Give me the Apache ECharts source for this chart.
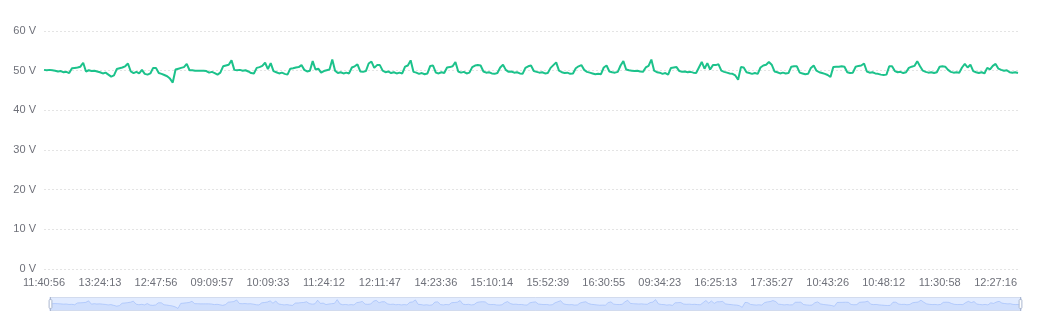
<!DOCTYPE html>
<html>
<head>
<meta charset="utf-8">
<script src="https://cdn.jsdelivr.net/npm/echarts@6/dist/echarts.min.js"></script>
<style>
html,body{margin:0;padding:0;background:#fff;}
#chart{width:1050px;height:314px;}
</style>
</head>
<body>
<div id="chart"></div>
<script>
// Visible tick labels on the x axis (every 20th category)
const tickLabels = ['11:40:56','13:24:13','12:47:56','09:09:57','10:09:33','11:24:12','12:11:47','14:23:36','15:10:14','15:52:39','16:30:55','09:34:23','16:25:13','17:35:27','10:43:26','10:48:12','11:30:58','12:27:16'];
const labelStep = 20;

// Voltage readings (V)
const voltage = [
50.2,50.1,50.2,50.1,50.0,49.8,49.9,49.6,49.7,49.4,50.6,50.7,50.8,51.0,52.0,49.8,50.1,49.9,50.0,49.8,
49.6,49.3,49.5,49.0,48.5,48.8,50.4,50.6,50.8,51.1,51.8,49.8,49.4,49.7,49.3,50.2,49.2,49.0,49.3,50.7,
50.7,49.4,49.2,48.9,48.6,48.0,47.0,50.3,50.5,50.7,50.9,51.7,50.1,50.1,50.0,50.0,50.0,50.0,49.9,49.5,
49.7,49.4,49.0,49.5,51.1,51.3,51.5,52.6,50.2,50.1,50.2,50.0,50.1,49.8,49.4,49.3,50.7,50.9,51.2,52.0,
50.4,51.9,49.9,49.6,49.3,49.5,49.2,49.0,50.5,50.6,50.8,50.9,51.4,50.2,49.8,50.0,52.4,50.3,50.5,49.5,
49.9,50.1,50.3,52.8,50.0,49.4,49.6,49.3,49.5,49.3,50.8,51.1,51.6,49.8,49.7,49.9,51.8,52.3,50.7,51.4,
51.4,50.0,49.6,49.8,49.4,49.6,49.3,49.5,49.3,51.0,51.3,52.6,49.7,49.5,49.2,49.4,49.1,49.3,51.2,51.3,
49.5,49.3,49.6,49.4,50.8,50.9,51.1,52.2,49.8,49.5,49.7,49.3,49.5,50.9,51.3,51.4,51.3,49.8,49.5,49.6,
49.3,49.2,49.4,50.8,51.5,50.2,49.7,49.8,49.5,49.6,49.3,49.2,50.7,51.1,51.3,49.9,49.7,49.5,49.6,49.3,
49.4,50.7,51.4,52.1,50.0,49.6,49.4,49.5,49.2,49.3,50.6,51.1,51.4,50.2,49.7,49.5,49.3,49.1,49.2,49.1,
50.8,51.3,49.8,49.6,49.5,49.7,51.3,52.4,50.3,50.1,50.0,49.9,50.0,49.8,49.7,50.8,51.2,52.8,50.0,49.6,
49.5,49.2,49.4,49.0,50.7,50.8,50.9,49.9,49.7,49.8,49.6,49.7,49.5,49.4,50.8,52.2,50.5,51.9,50.3,51.4,
51.4,51.6,50.0,49.7,49.5,49.3,49.2,48.8,47.7,50.9,50.8,49.6,49.4,49.2,49.4,49.2,50.8,51.3,51.5,52.2,
51.5,49.8,49.6,49.3,49.5,49.3,49.4,51.0,51.1,51.1,49.5,49.3,49.1,49.2,50.7,51.3,50.0,49.6,49.4,49.2,
48.9,48.4,50.9,51.0,51.0,51.1,51.0,49.6,49.4,49.5,51.0,51.2,51.3,51.8,49.8,49.5,49.6,49.3,49.2,49.0,
48.9,49.0,51.1,51.1,49.9,49.6,49.7,49.4,49.6,50.7,51.0,51.2,52.4,51.1,50.0,49.7,49.5,49.6,49.4,49.6,
51.0,51.1,51.0,50.2,49.7,49.5,49.6,49.5,50.8,51.7,50.8,51.5,49.9,49.6,49.4,49.6,49.3,50.7,50.3,51.2,
51.7,50.5,50.2,50.0,50.1,49.6,49.5,49.6,49.4
];

// y-axis ticks
const yMin = 0, yMax = 60, yStep = 10, yUnit = ' V';

// Category list built from the tick labels (unlabelled samples left blank)
const categories = voltage.map((v, i) => (i % labelStep === 0 && tickLabels[i / labelStep] !== undefined) ? tickLabels[i / labelStep] : '');

const handlePath = 'path://M-9.35,34.56V42m0-40V9.5m-2,0h4a2,2,0,0,1,2,2v21a2,2,0,0,1-2,2h-4a2,2,0,0,1-2-2v-21A2,2,0,0,1-11.35,9.5Z';

const chart = echarts.init(document.getElementById('chart'), null, {renderer: 'canvas'});
chart.setOption({
  animation: false,
  textStyle: {fontFamily: 'Liberation Sans, Arial, sans-serif'},
  grid: {left: 44, right: 32, top: 31, bottom: 45},
  xAxis: {
    type: 'category',
    boundaryGap: false,
    data: categories,
    axisLine: {show: false},
    axisTick: {show: false},
    axisLabel: {interval: labelStep - 1, color: '#6e7079', fontSize: 11, margin: 8}
  },
  yAxis: {
    type: 'value',
    min: yMin, max: yMax, interval: yStep,
    axisLabel: {formatter: '{value}' + yUnit, color: '#6e7079', fontSize: 11, margin: 8},
    splitLine: {lineStyle: {color: '#e4e4e4', type: [2, 2]}}
  },
  dataZoom: [
    {type: 'inside', start: 0, end: 100},
    {type: 'slider', start: 0, end: 100, left: 47, right: 31, bottom: 3, height: 14,
     showDetail: false, brushSelect: false, moveHandleSize: 0,
     backgroundColor: 'rgba(47,69,84,0)',
     borderColor: '#d2dbee',
     fillerColor: 'rgba(135,175,274,0.25)',
     handleIcon: handlePath, handleSize: '100%',
     handleStyle: {color: '#fff', borderColor: '#acb8d1'},
     dataBackground: {lineStyle: {color: '#d2dbee', width: 0.5}, areaStyle: {color: '#d2dbee', opacity: 0.3}},
     selectedDataBackground: {lineStyle: {color: '#8fb0f7', width: 0.5}, areaStyle: {color: '#8fb0f7', opacity: 0.2}}
    }
  ],
  series: [{
    type: 'line',
    data: voltage,
    showSymbol: false,
    symbol: 'none',
    lineStyle: {color: '#1cc28b', width: 2},
    itemStyle: {color: '#1cc28b'}
  }]
});
</script>
</body>
</html>
